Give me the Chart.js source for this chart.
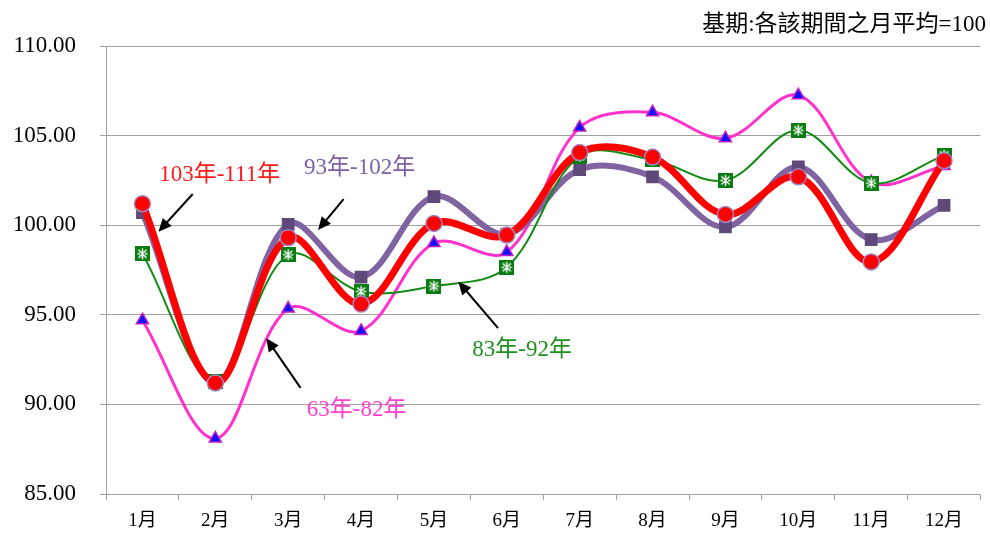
<!DOCTYPE html>
<html>
<head>
<meta charset="utf-8">
<script src="https://cdn.jsdelivr.net/npm/chart.js@4/dist/chart.umd.min.js"></script>
<style>
  body { margin: 0; background: #fff; }
  canvas { display: block; }
</style>
</head>
<body>
<canvas id="myChart" width="990" height="534"></canvas>
<script>
// categories and series
const months = ['1月', '2月', '3月', '4月', '5月', '6月', '7月', '8月', '9月', '10月', '11月', '12月'];
const p103_111 = [101.2, 91.2, 99.3, 95.6, 100.1, 99.45, 104.05, 103.8, 100.6, 102.7, 97.95, 103.6];
const p93_102 = [100.7, 91.2, 100.05, 97.1, 101.6, 99.5, 103.1, 102.7, 99.9, 103.25, 99.2, 101.1];
const p83_92 = [98.4, 91.3, 98.35, 96.3, 96.6, 97.65, 103.85, 103.65, 102.5, 105.3, 102.35, 103.9];
const p63_82 = [94.7, 88.1, 95.35, 94.1, 99.0, 98.5, 105.45, 106.3, 104.85, 107.25, 102.4, 103.3];
const yTicks = [85, 90, 95, 100, 105, 110];
const baseNote = '基期:各該期間之月平均=100';

const serif = '"Liberation Serif", "Noto Sans CJK TC", serif';

// green square with white star mark
function starMarker(){
    const c = document.createElement('canvas');
    c.width = 15; c.height = 15;
    const g = c.getContext('2d');
    g.fillStyle = '#0a7d12';
    g.fillRect(0, 0, 15, 15);
    g.strokeStyle = '#fff';
    g.lineWidth = 1.4;
    g.beginPath();
    g.moveTo(7.5, 2); g.lineTo(7.5, 13);
    g.moveTo(3.5, 3.5); g.lineTo(11.5, 11.5);
    g.moveTo(11.5, 3.5); g.lineTo(3.5, 11.5);
    g.moveTo(2.5, 7.5); g.lineTo(5, 7.5);
    g.moveTo(10, 7.5); g.lineTo(12.5, 7.5);
    g.stroke();
    return c;
}

// period labels with arrows, placed in data units (category index, value)
const notes = [
    {text: '103年-111年', color: '#ff1a1a', x: 1.06, y: 102.8, from: [0.69, 101.74], to: [0.22, 99.64]},
    {text: '93年-102年', color: '#7f5fa8', x: 2.98, y: 103.19, from: [2.76, 101.46], to: [2.41, 99.73]},
    {text: '63年-82年', color: '#ff3fcf', x: 2.94, y: 89.69, from: [2.17, 90.92], to: [1.70, 93.69]},
    {text: '83年-92年', color: '#1f8f1f', x: 5.21, y: 93.04, from: [4.88, 94.26], to: [4.335, 96.85]}
];

const notePlugin = {
    id: 'notes',
    afterDatasetsDraw(chart){
        const ctx = chart.ctx;
        const xs = chart.scales.x, ys = chart.scales.y;
        ctx.save();
        ctx.font = '23px ' + serif;
        ctx.textAlign = 'center';
        ctx.textBaseline = 'middle';
        notes.forEach(n => {
            ctx.fillStyle = n.color;
            ctx.fillText(n.text, xs.getPixelForValue(n.x), ys.getPixelForValue(n.y));

            const x1 = xs.getPixelForValue(n.from[0]), y1 = ys.getPixelForValue(n.from[1]);
            const x2 = xs.getPixelForValue(n.to[0]), y2 = ys.getPixelForValue(n.to[1]);
            const a = Math.atan2(y2 - y1, x2 - x1);
            ctx.strokeStyle = '#000';
            ctx.fillStyle = '#000';
            ctx.lineWidth = 2;
            ctx.beginPath();
            ctx.moveTo(x1, y1);
            ctx.lineTo(x2 - 8 * Math.cos(a), y2 - 8 * Math.sin(a));
            ctx.stroke();
            ctx.beginPath();
            ctx.moveTo(x2, y2);
            ctx.lineTo(x2 - 13 * Math.cos(a) + 6 * Math.sin(a), y2 - 13 * Math.sin(a) - 6 * Math.cos(a));
            ctx.lineTo(x2 - 13 * Math.cos(a) - 6 * Math.sin(a), y2 - 13 * Math.sin(a) + 6 * Math.cos(a));
            ctx.closePath();
            ctx.fill();
        });
        ctx.font = '23px ' + serif;
        ctx.textAlign = 'right';
        ctx.textBaseline = 'middle';
        ctx.fillStyle = '#000';
        ctx.fillText(baseNote, 986, 25);
        ctx.restore();
    }
};

const ctx = document.getElementById('myChart').getContext('2d');
const myChart = new Chart(ctx, {
    type: 'line',
    data: {
        labels: months,
        datasets: [{
            label: '103年-111年',
            data: p103_111,
            borderColor: '#ff0000',
            borderWidth: 7,
            pointStyle: 'circle',
            pointRadius: 8,
            pointBackgroundColor: '#ff0000',
            pointBorderColor: '#9c86c4',
            pointBorderWidth: 1.5
        }, {
            label: '83年-92年',
            data: p83_92,
            borderColor: '#138a13',
            borderWidth: 2,
            pointStyle: starMarker(),
            pointRadius: 7
        }, {
            label: '93年-102年',
            data: p93_102,
            borderColor: '#8064a2',
            borderWidth: 6,
            pointStyle: 'rect',
            pointRadius: 9,
            pointBackgroundColor: '#5f497a',
            pointBorderColor: '#5f497a',
            pointBorderWidth: 0
        }, {
            label: '63年-82年',
            data: p63_82,
            borderColor: '#ff33cc',
            borderWidth: 3,
            pointStyle: 'triangle',
            pointRadius: 7,
            pointBackgroundColor: '#1010ff',
            pointBorderColor: '#c020c0',
            pointBorderWidth: 1.5
        }]
    },
    options: {
        responsive: false,
        animation: false,
        tension: 0.35,
        layout: {
            padding: {top: 46, right: 7, left: 0, bottom: 0}
        },
        plugins: {
            legend: {display: false},
            title: {display: false},
            tooltip: {enabled: false}
        },
        scales: {
            x: {
                offset: true,
                grid: {
                    offset: true,
                    drawOnChartArea: false,
                    drawTicks: true,
                    tickLength: 6,
                    color: '#a0a0a0'
                },
                border: {display: true, color: '#a0a0a0'},
                ticks: {
                    color: '#000',
                    padding: 10,
                    font: {family: serif, size: 19},
                    maxRotation: 0
                },
                afterFit: function(scale){ scale.height = 40; }
            },
            y: {
                min: 85,
                max: 110,
                afterBuildTicks: function(scale){
                    scale.ticks = yTicks.map(v => ({value: v}));
                },
                grid: {
                    color: '#a0a0a0',
                    drawTicks: true,
                    tickLength: 6
                },
                border: {display: true, color: '#a0a0a0'},
                ticks: {
                    color: '#000',
                    padding: 24,
                    font: {family: serif, size: 23},
                    callback: function(value){ return Number(value).toFixed(2); }
                },
                afterFit: function(scale){ scale.width = 106; }
            }
        }
    },
    plugins: [notePlugin]
});
</script>
</body>
</html>
